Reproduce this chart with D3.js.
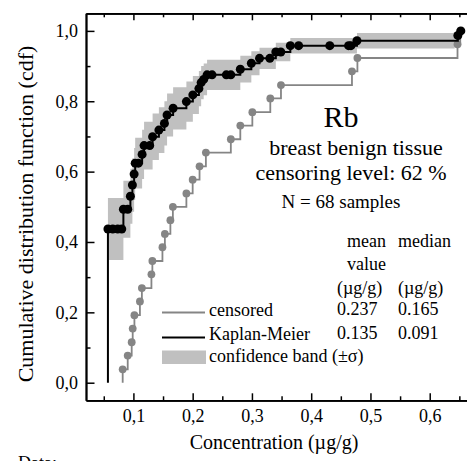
<!DOCTYPE html>
<html>
<head>
<meta charset="utf-8">
<script src="https://cdn.jsdelivr.net/npm/d3@7/dist/d3.min.js"></script>
<style>
  html, body { margin: 0; padding: 0; background: #fff; }
  svg { display: block; }
  text { font-family: "Liberation Serif", "DejaVu Serif", serif; fill: #000; }
</style>
</head>
<body>
<svg id="chart" width="467" height="461"></svg>
<script>
// ---- Data ----
// Kaplan-Meier estimate: points
const kmX = [0.057,0.0651,0.0735,0.0803,0.0831,0.0904,0.0949,0.0983,0.1012,0.103,0.1084,0.1147,0.118,0.1275,0.1324,0.143,0.1523,0.1568,0.167,0.1894,0.2003,0.2105,0.2143,0.2186,0.2243,0.2327,0.2568,0.2644,0.2804,0.299,0.3128,0.3302,0.3403,0.3487,0.3648,0.3788,0.4314,0.4631,0.4671,0.4772,0.6475,0.6525];
const kmP = [0.437,0.437,0.437,0.437,0.493,0.493,0.53,0.562,0.593,0.624,0.624,0.649,0.674,0.674,0.699,0.718,0.737,0.761,0.78,0.799,0.818,0.836,0.853,0.862,0.875,0.875,0.875,0.875,0.891,0.908,0.922,0.922,0.94,0.94,0.958,0.958,0.958,0.958,0.958,0.972,0.987,1.0];

// "censored" empirical cdf
const cenX = [0.0819,0.0904,0.0971,0.0988,0.1017,0.111,0.1143,0.1304,0.132,0.149,0.1531,0.1624,0.1666,0.1894,0.2,0.2116,0.2223,0.2644,0.2804,0.3007,0.331,0.349,0.4688,0.478,0.6469,0.6515];
const cenP = [0.038,0.077,0.115,0.154,0.192,0.231,0.269,0.308,0.346,0.385,0.423,0.462,0.5,0.538,0.577,0.615,0.654,0.692,0.731,0.769,0.808,0.846,0.885,0.923,0.962,1.0];

// confidence band (±σ), step starts
const bandX  = [0.057,0.0831,0.0949,0.0983,0.1012,0.103,0.1147,0.118,0.1324,0.143,0.1523,0.1568,0.167,0.1894,0.2003,0.2105,0.2143,0.2186,0.2243,0.2804,0.299,0.3128,0.3403,0.3648,0.4772,0.642];
const bandLo = [0.349,0.412,0.452,0.486,0.519,0.552,0.579,0.606,0.633,0.653,0.674,0.7,0.72,0.742,0.764,0.786,0.806,0.817,0.832,0.853,0.874,0.892,0.914,0.936,0.95,0.95];
const bandHi = [0.525,0.574,0.608,0.638,0.667,0.696,0.719,0.742,0.765,0.783,0.8,0.822,0.84,0.856,0.872,0.886,0.9,0.907,0.918,0.929,0.942,0.952,0.966,0.98,0.994,0.994];

// ticks
const xMajor = [0.1,0.2,0.3,0.4,0.5,0.6];
const xMinor = [0.05,0.15,0.25,0.35,0.45,0.55,0.65];
const yMajor = [0.0,0.2,0.4,0.6,0.8,1.0];
const yMinor = [0.1,0.3,0.5,0.7,0.9];

// annotation texts
const legendLabels = ["censored","Kaplan-Meier","confidence band (\u00B1\u03C3)"];
const tableHeader = [["mean","median"],["value",""],["(\u00B5g/g)","(\u00B5g/g)"]];
const tableRows = [["0.237","0.165"],["0.135","0.091"]];

// ---- Layout ----
const svg = d3.select("#chart");
const L = 86, T = 13.3, B = 400.3, R = 471.2;
const x = d3.scaleLinear().domain([0.02, 0.67]).range([L, R]);
const y = d3.scaleLinear().domain([-0.05, 1.05]).range([B, T]);
const comma = v => d3.format(".1f")(v).replace(".", ",");

const COL_BAND = "#c0c0c0", COL_GRAY = "#858585";

// band
const bandData = bandX.map((v,i) => ({x:v, lo:bandLo[i], hi:bandHi[i]}));
svg.append("path")
  .attr("d", d3.area().curve(d3.curveStepAfter)
    .x(d => x(d.x)).y0(d => y(d.lo)).y1(d => y(d.hi))(bandData))
  .attr("fill", COL_BAND);

// step line generator starting from cdf = 0
function stepPath(xs, ps) {
  const pts = [[xs[0], 0]].concat(xs.map((v,i) => [v, ps[i]]));
  return d3.line().curve(d3.curveStepAfter).x(d => x(d[0])).y(d => y(d[1]))(pts);
}

// censored series
svg.append("path").attr("d", stepPath(cenX, cenP))
  .attr("fill", "none").attr("stroke", COL_GRAY).attr("stroke-width", 1.8);
svg.append("g").selectAll("circle").data(cenX).join("circle")
  .attr("cx", d => x(d)).attr("cy", (d,i) => y(cenP[i])).attr("r", 3.9)
  .attr("fill", COL_GRAY);

// Kaplan-Meier
svg.append("path").attr("d", stepPath(kmX, kmP))
  .attr("fill", "none").attr("stroke", "#000").attr("stroke-width", 2);
svg.append("g").selectAll("circle").data(kmX).join("circle")
  .attr("cx", d => x(d)).attr("cy", (d,i) => y(kmP[i])).attr("r", 4.5)
  .attr("fill", "#000");

// ---- Axes (inward ticks) ----
function styleAxis(g) {
  g.selectAll("path.domain").attr("stroke", "#000").attr("stroke-width", 1.8);
  g.selectAll(".tick line").attr("stroke", "#000").attr("stroke-width", 1.5);
  g.selectAll("text").attr("font-family", "Liberation Serif").attr("font-size", 18).attr("fill", "#000");
}
// bottom
svg.append("g").attr("transform", `translate(0,${B})`)
  .call(d3.axisBottom(x).tickValues(xMinor).tickSizeInner(-4).tickSizeOuter(0).tickFormat(""))
  .call(styleAxis);
svg.append("g").attr("transform", `translate(0,${B})`)
  .call(d3.axisBottom(x).tickValues(xMajor).tickSizeInner(-7).tickSizeOuter(0).tickPadding(8.5).tickFormat(comma))
  .call(styleAxis);
// top
svg.append("g").attr("transform", `translate(0,${T})`)
  .call(d3.axisTop(x).tickValues(xMinor).tickSizeInner(-4).tickSizeOuter(0).tickFormat(""))
  .call(styleAxis);
svg.append("g").attr("transform", `translate(0,${T})`)
  .call(d3.axisTop(x).tickValues(xMajor).tickSizeInner(-7).tickSizeOuter(0).tickFormat(""))
  .call(styleAxis);
// left
svg.append("g").attr("transform", `translate(${L},0)`)
  .call(d3.axisLeft(y).tickValues(yMinor).tickSizeInner(-4.5).tickSizeOuter(0).tickFormat(""))
  .call(styleAxis);
svg.append("g").attr("transform", `translate(${L},0)`)
  .call(d3.axisLeft(y).tickValues(yMajor).tickSizeInner(-8.5).tickSizeOuter(0).tickPadding(8).tickFormat(comma))
  .call(styleAxis);
// right frame (outside the visible area)
svg.append("line").attr("x1", R).attr("x2", R).attr("y1", T).attr("y2", B)
  .attr("stroke", "#000").attr("stroke-width", 1.8);

// ---- Axis titles ----
svg.append("text").attr("transform", `translate(33,214) rotate(-90)`)
  .attr("text-anchor", "middle").attr("font-size", 22)
  .text("Cumulative distribution function (cdf)");
svg.append("text").attr("x", 274).attr("y", 449)
  .attr("text-anchor", "middle").attr("font-size", 20)
  .text("Concentration (\u00B5g/g)");
svg.append("text").attr("x", 18).attr("y", 469).attr("font-size", 18).text("Data:");

// ---- Annotations ----
svg.append("text").attr("x", 341).attr("y", 126.5).attr("text-anchor", "middle")
  .attr("font-size", 30).text("Rb");
svg.append("text").attr("x", 356).attr("y", 155).attr("text-anchor", "middle")
  .attr("font-size", 22).text("breast benign tissue");
svg.append("text").attr("x", 351).attr("y", 180).attr("text-anchor", "middle")
  .attr("font-size", 22).text("censoring level: 62 %");
svg.append("text").attr("x", 341).attr("y", 208).attr("text-anchor", "middle")
  .attr("font-size", 19).text("N = 68 samples");

// table
const hdrY = [246.7, 270, 294];
const hdrX = [[347, 398],[347, 398],[337, 398]];
tableHeader.forEach((row, r) => row.forEach((t, c) => {
  svg.append("text").attr("x", hdrX[r][c]).attr("y", hdrY[r]).attr("font-size", 18).text(t);
}));
const rowY = [314.5, 338.5];
tableRows.forEach((row, r) => row.forEach((t, c) => {
  svg.append("text").attr("x", c === 0 ? 337 : 398).attr("y", rowY[r]).attr("font-size", 18).text(t);
}));

// legend
const lg = svg.append("g");
lg.append("line").attr("x1", 162).attr("x2", 205).attr("y1", 312.5).attr("y2", 312.5)
  .attr("stroke", COL_GRAY).attr("stroke-width", 1.8);
lg.append("line").attr("x1", 162).attr("x2", 205).attr("y1", 337.5).attr("y2", 337.5)
  .attr("stroke", "#000").attr("stroke-width", 2);
lg.append("rect").attr("x", 162).attr("y", 350.5).attr("width", 44).attr("height", 13.5)
  .attr("fill", COL_BAND);
const legY = [316, 340, 362];
legendLabels.forEach((t, i) => {
  lg.append("text").attr("x", 209).attr("y", legY[i]).attr("font-size", 18).text(t);
});
</script>
</body>
</html>
